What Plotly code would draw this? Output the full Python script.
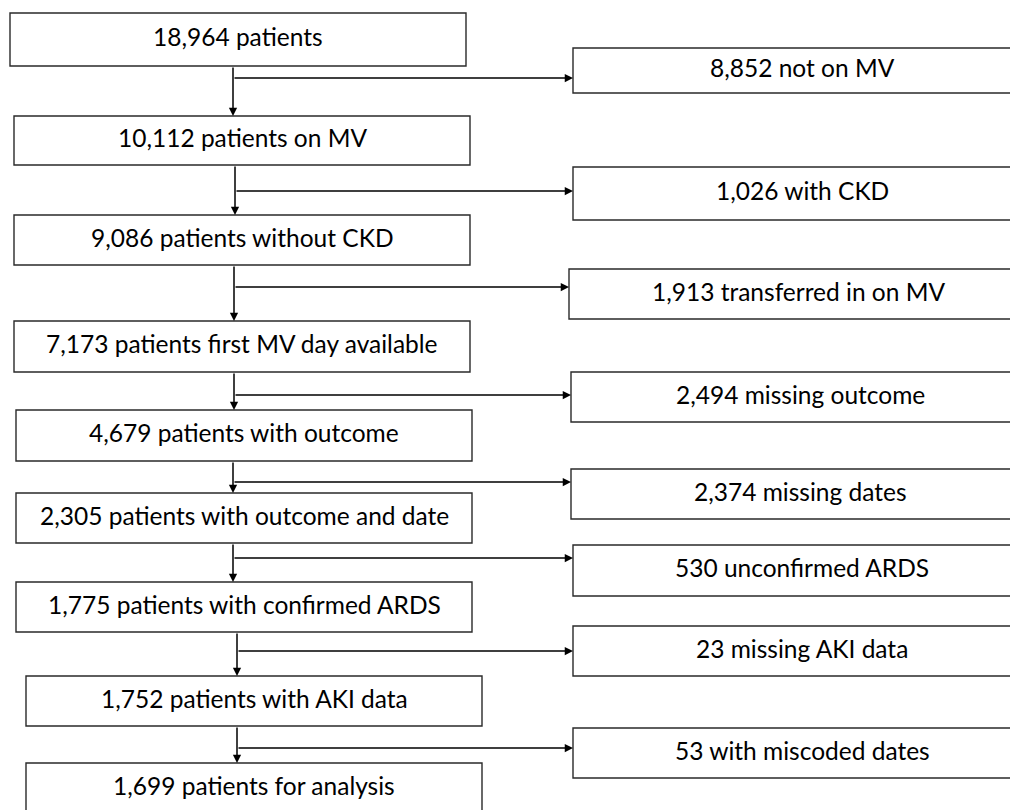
import plotly.graph_objects as go

# ---- data: flow counts and labels ----
main_counts = [18964, 10112, 9086, 7173, 4679, 2305, 1775, 1752, 1699]
main_labels = ["patients", "patients on MV", "patients without CKD",
               "patients first MV day available", "patients with outcome",
               "patients with outcome and date", "patients with confirmed ARDS",
               "patients with AKI data", "patients for analysis"]
excl_counts = [8852, 1026, 1913, 2494, 2374, 530, 23, 53]
excl_labels = ["not on MV", "with CKD", "transferred in on MV", "missing outcome",
               "missing dates", "unconfirmed ARDS", "missing AKI data",
               "with miscoded dates"]

# ---- layout geometry (page pixels) ----
main_x = [(10, 466), (14, 470), (14, 470), (14, 470), (16, 472), (16, 472),
          (16, 472), (26, 482), (26, 482)]
main_y = [(13, 66), (116, 165), (215, 265), (321, 372), (410, 461), (493, 543),
          (582, 632), (676, 726), (763, 830)]
excl_x0 = [573, 573, 569, 571, 571, 573, 573, 573]
excl_x1 = 1100           # right boxes run off the page edge
excl_text_x = [802, 802, 798, 800, 800, 802, 802, 802]
excl_y = [(48, 93), (167, 220), (269, 319), (372, 422), (469, 519), (545, 596),
          (626, 676), (728, 778)]
stem_x = [233, 235, 234, 234, 233, 233, 237, 237]
branch_y = [78, 191, 287, 395, 482, 558, 651, 748]
# text centre for the box clipped by the bottom page edge
text_cy = {8: 785}

OFF = 8  # page body margin
W, H = 1018, 810
fig = go.Figure()
shapes = []
annotations = []
FONT = dict(family="Lato, Carlito, Calibri, sans-serif", size=24.5, color="#000000")
LINE = dict(color="#2a2a2a", width=1.4)


def fmt(n):
    return f"{n:,}"


def label(cx, cy, text):
    annotations.append(dict(x=cx, y=cy, xref="x", yref="y", text=text,
                            showarrow=False, font=FONT,
                            xanchor="center", yanchor="middle"))


for i, (c, l, x, y) in enumerate(zip(main_counts, main_labels, main_x, main_y)):
    if y[1] > H:   # box running off the bottom edge: no bottom side
        path = f"M {x[0]},{y[1]} L {x[0]},{y[0]} L {x[1]},{y[0]} L {x[1]},{y[1]}"
        shapes.append(dict(type="path", xref="x", yref="y", path=path, line=LINE))
    else:
        shapes.append(dict(type="rect", xref="x", yref="y", x0=x[0], x1=x[1],
                           y0=y[0], y1=y[1], line=LINE))
    cy = text_cy.get(i, (y[0] + y[1]) / 2 - 3)
    label((x[0] + x[1]) / 2, cy, f"{fmt(c)} {l}")

for c, l, x0, tx, y in zip(excl_counts, excl_labels, excl_x0, excl_text_x, excl_y):
    # box running off the right edge: no right side
    path = f"M {excl_x1},{y[0]} L {x0},{y[0]} L {x0},{y[1]} L {excl_x1},{y[1]}"
    shapes.append(dict(type="path", xref="x", yref="y", path=path, line=LINE))
    label(tx, (y[0] + y[1]) / 2 - 3, f"{fmt(c)} {l}")

# arrows
for i in range(len(excl_counts)):
    sx = stem_x[i]
    top = main_y[i][1]
    bot = main_y[i + 1][0]
    annotations.append(dict(x=sx, y=bot, ax=sx, ay=top, xref="x", yref="y",
                            axref="x", ayref="y", showarrow=True, arrowhead=2,
                            arrowsize=1.1, arrowwidth=1.5, arrowcolor="#000000",
                            text=""))
    annotations.append(dict(x=excl_x0[i], y=branch_y[i], ax=sx, ay=branch_y[i],
                            xref="x", yref="y", axref="x", ayref="y", showarrow=True,
                            arrowhead=2, arrowsize=1.1, arrowwidth=1.5,
                            arrowcolor="#000000", text=""))

fig.update_layout(
    width=W - OFF, height=H - OFF, margin=dict(l=0, r=0, t=0, b=0),
    paper_bgcolor="white", plot_bgcolor="white",
    xaxis=dict(range=[OFF, W], visible=False, fixedrange=True),
    yaxis=dict(range=[H, OFF], visible=False, fixedrange=True),
    shapes=shapes, annotations=annotations, showlegend=False,
)
fig.write_html("out.html")
